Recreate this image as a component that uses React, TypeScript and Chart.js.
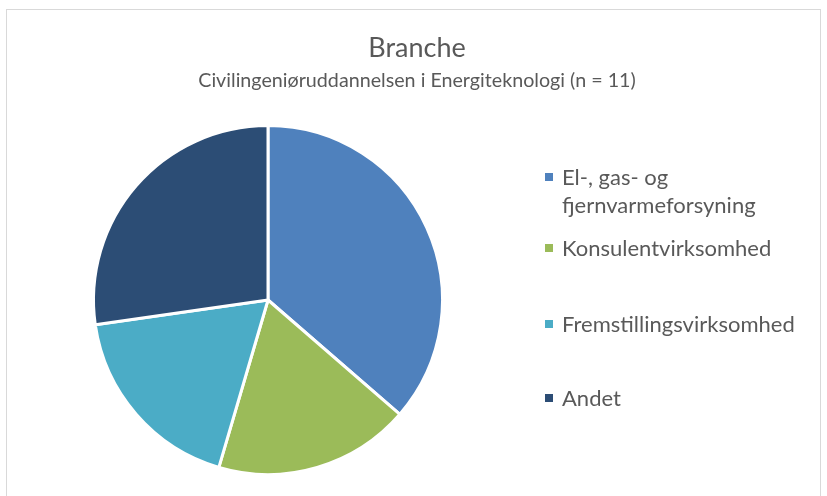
import React, { useEffect, useRef } from "react";
import { Chart, registerables } from "chart.js";

Chart.register(...registerables);

const TITLE = "Branche";
const SUBTITLE = "Civilingeniøruddannelsen i Energiteknologi (n = 11)";
const labels = [
  "El-, gas- og fjernvarmeforsyning",
  "Konsulentvirksomhed",
  "Fremstillingsvirksomhed",
  "Andet",
];
const counts = [4, 2, 2, 3];
const colors = ["#4F81BD", "#9BBB59", "#4BACC6", "#2C4D75"];

const FONT = "Lato, 'Open Sans', sans-serif";
const TEXT_COLOR = "#595959";
const LEGEND_Y = [177, 248, 324, 398];
const LEGEND_X = 545;
const LEGEND_LINE = 28;
const LEGEND_MAX_W = 255;

const titlePlugin = {
  id: "customTitle",
  afterDraw(chart: any) {
    const ctx = chart.ctx;
    ctx.save();
    ctx.fillStyle = TEXT_COLOR;
    ctx.textAlign = "center";
    ctx.textBaseline = "middle";
    ctx.font = `27px ${FONT}`;
    ctx.fillText(TITLE, 417, 48);
    ctx.font = `19.7px ${FONT}`;
    ctx.fillText(SUBTITLE, 417, 81);
    ctx.restore();
  },
};

function wrap(ctx: CanvasRenderingContext2D, text: string, maxW: number) {
  const words = text.split(" ");
  const lines: string[] = [];
  let cur = "";
  for (const w of words) {
    const t = cur ? cur + " " + w : w;
    if (cur && ctx.measureText(t).width > maxW) {
      lines.push(cur);
      cur = w;
    } else cur = t;
  }
  if (cur) lines.push(cur);
  return lines;
}

const legendPlugin = {
  id: "customLegend",
  afterDraw(chart: any) {
    const ctx = chart.ctx;
    const data = chart.data;
    ctx.save();
    ctx.font = `22px ${FONT}`;
    ctx.textBaseline = "middle";
    ctx.textAlign = "left";
    (data.labels as string[]).forEach((lab, i) => {
      const y = LEGEND_Y[i];
      ctx.fillStyle = data.datasets[0].backgroundColor[i];
      ctx.fillRect(LEGEND_X, y - 4, 8, 8);
      ctx.fillStyle = TEXT_COLOR;
      const lines = wrap(ctx, lab, LEGEND_MAX_W);
      lines.forEach((ln, j) => ctx.fillText(ln, LEGEND_X + 17, y + 1 + j * LEGEND_LINE));
    });
    ctx.restore();
  },
};

export default function App() {
  const ref = useRef<HTMLCanvasElement>(null);
  useEffect(() => {
    document.body.style.margin = "0";
    const chart = new Chart(ref.current!, {
      type: "pie",
      data: {
        labels,
        datasets: [
          {
            data: counts,
            backgroundColor: colors,
            borderColor: "#ffffff",
            borderWidth: 3,
          },
        ],
      },
      options: {
        animation: false,
        responsive: false,
        layout: { padding: { left: 92, right: 383, top: 124, bottom: 20 } },
        plugins: {
          legend: { display: false },
          title: { display: false },
          tooltip: { enabled: false },
        },
      },
      plugins: [titlePlugin, legendPlugin],
    });
    return () => chart.destroy();
  }, []);
  return (
    <div style={{ position: "relative", width: 827, height: 496, overflow: "hidden", background: "#fff" }}>
      <div
        style={{
          position: "absolute",
          left: 6,
          top: 9,
          width: 815,
          height: 520,
          border: "1px solid #d9d9d9",
          boxSizing: "border-box",
        }}
      />
      <canvas ref={ref} width={827} height={496} style={{ position: "absolute", left: 0, top: 0 }} />
    </div>
  );
}
